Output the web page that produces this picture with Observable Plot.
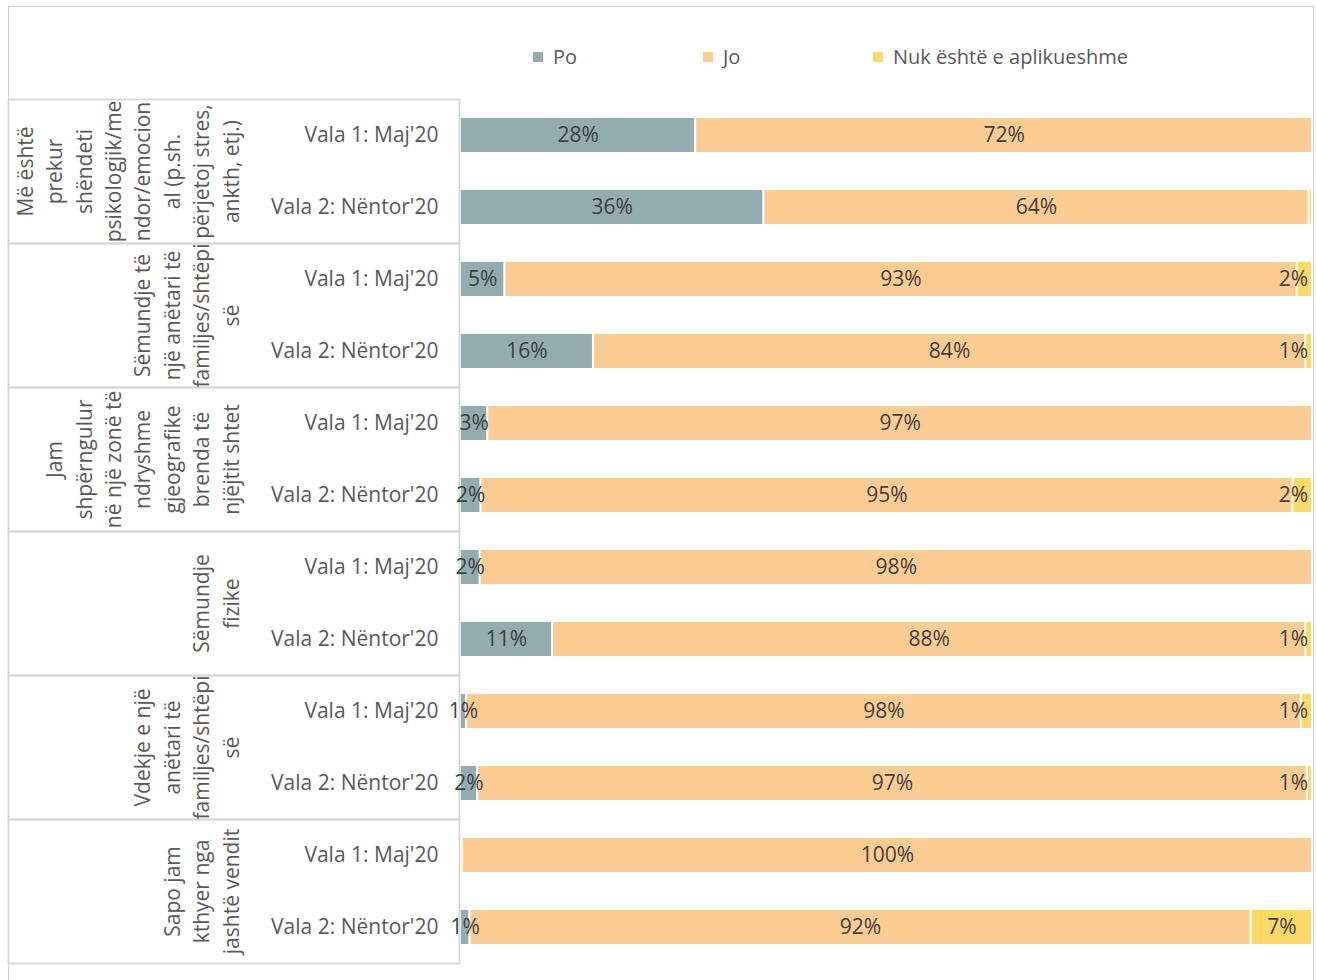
<!DOCTYPE html>
<html>
<head>
<meta charset="utf-8">
<script src="https://cdn.jsdelivr.net/npm/d3@7"></script>
<script src="https://cdn.jsdelivr.net/npm/@observablehq/plot@0.6"></script>
<style>
  html, body { margin: 0; padding: 0; background: #fff; overflow: hidden; }
  body { width: 1317px; height: 980px; position: relative; font-family: "Open Sans", sans-serif; }
  #border { position: absolute; left: 8px; top: 6px; width: 1306px; height: 1200px; border: 1.5px solid #cfcfcf; box-sizing: border-box; }
  #legend { position: absolute; left: 0; top: 0; width: 1317px; height: 90px; }
  #legend .lg-swatches { position: absolute; left: 533px; top: 43px; margin: 0; min-height: 0; flex-wrap: nowrap; white-space: nowrap; }
  #legend .lg-swatch { width: 170px; margin: 0 !important; font-size: 20px; color: #595959; font-family: "Open Sans", sans-serif; white-space: nowrap; }
  #legend .lg-swatch:last-child { width: auto; }
  #legend .lg-swatch svg { margin-right: 10px; }
  #chart { position: absolute; left: 0; top: 90px; }
</style>
</head>
<body>
<div id="border"></div>
<div id="legend"></div>
<div id="chart"></div>
<script>
const answers = ["Po", "Jo", "Nuk është e aplikueshme"];
const colors = ["#93acb0", "#fdcc93", "#ffd966"];
const waves = ["Vala 1: Maj'20", "Vala 2: Nëntor'20"];
const groups = [
  "Më është\nprekur\nshëndeti\npsikologjik/me\nndor/emocion\nal (p.sh.\npërjetoj stres,\nankth, etj.)",
  "Sëmundje të\nnjë anëtari të\nfamiljes/shtëpi\nsë",
  "Jam\nshpërngulur\nnë një zonë të\nndryshme\ngjeografike\nbrenda të\nnjëjtit shtet",
  "Sëmundje\nfizike",
  "Vdekje e një\nanëtari të\nfamiljes/shtëpi\nsë",
  "Sapo jam\nkthyer nga\njashtë vendit"
];
// values in percent, row order: group1 V1, group1 V2, group2 V1, ...
const po = [27.6, 35.6, 5.2, 15.6, 3.2, 2.4, 2.3, 10.8, 0.7, 2.0, 0.2, 1.1];
const jo = [72.4, 64.0, 93.0, 83.6, 96.8, 95.3, 97.7, 88.4, 98.0, 97.4, 99.8, 91.7];
const na = [0.0, 0.4, 1.8, 0.8, 0.0, 2.3, 0.0, 0.8, 1.3, 0.6, 0.0, 7.2];

const series = [po, jo, na];
const data = [];
groups.forEach((g, gi) => {
  waves.forEach((w, wi) => {
    const r = gi * 2 + wi;
    let start = 0;
    answers.forEach((a, ai) => {
      const v = series[ai][r] / 100;
      data.push({group: g, wave: w, answer: a, value: v, start});
      start += v;
    });
  });
});

const fmt = d3.format(".0%");
// label position: centre of its segment, kept inside the right end of the bar area
const labelMax = 0.9777;
const labelX = d => Math.min(d.start + d.value / 2, labelMax);

const legend = Plot.legend({
  color: {domain: answers, range: colors},
  legend: "swatches",
  swatchSize: 10,
  className: "lg"
});
document.getElementById("legend").appendChild(legend);

const chart = Plot.plot({
  width: 1317,
  height: 890,
  marginTop: 8,
  marginBottom: 17,
  marginLeft: 460,
  marginRight: 5,
  style: {fontFamily: "Open Sans, sans-serif", fontSize: "21px", color: "#595959", background: "transparent", overflow: "visible"},
  x: {domain: [0, 1], axis: null},
  y: {domain: waves, paddingInner: 0.53, paddingOuter: 0.265, label: null},
  fy: {domain: groups, padding: 0, axis: null, label: null},
  color: {domain: answers, range: colors},
  marks: [
    Plot.frame({insetLeft: -452, insetRight: 853, stroke: "#d6d6d6", strokeWidth: 1.8}),
    Plot.barX(data, {x: "value", y: "wave", fy: "group", fill: "answer", insetLeft: 1, insetRight: 1}),
    Plot.text(data, {x: labelX, y: "wave", fy: "group",
      text: d => d.value >= 0.005 ? fmt(d.value) : "",
      fill: "#404040", fontSize: 21}),
    Plot.axisY({tickSize: 0, tickPadding: 22, fontSize: 21, fill: "#595959", label: null}),
    Plot.text(groups, {fy: d => d, text: d => d, frameAnchor: "left", rotate: -90,
      lineAnchor: "bottom", textAnchor: "middle", lineHeight: 1.4, dx: -222,
      fill: "#595959", fontSize: 21})
  ]
});
document.getElementById("chart").appendChild(chart);
</script>
</body>
</html>
